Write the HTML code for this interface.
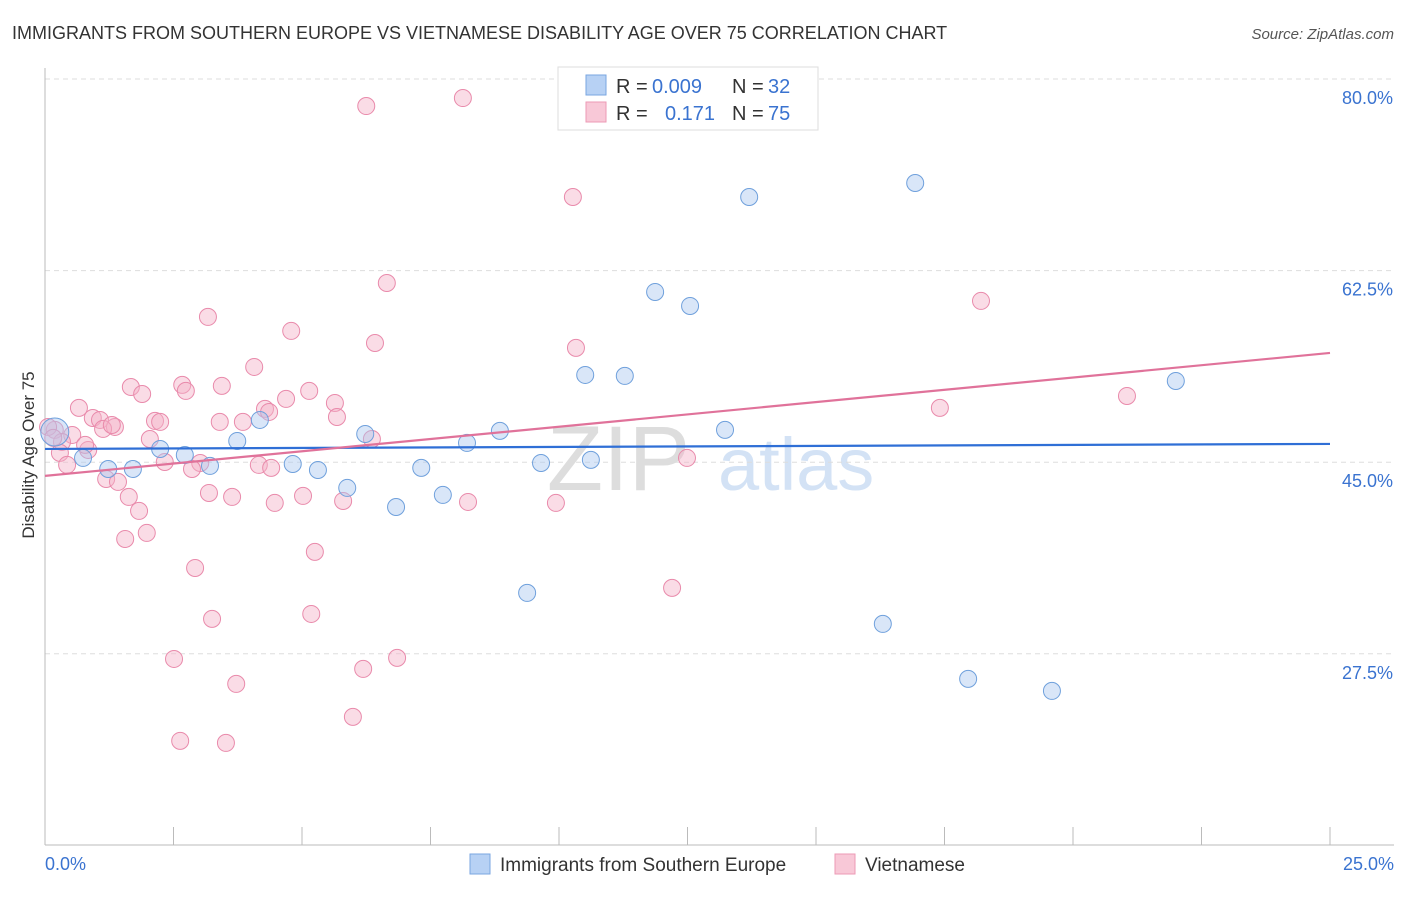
<!DOCTYPE html>
<html><head><meta charset="utf-8"><style>
body{margin:0;background:#fff;font-family:"Liberation Sans",sans-serif;}
svg text{font-family:"Liberation Sans",sans-serif;}
</style></head><body>
<svg id="c" width="1406" height="892" xmlns="http://www.w3.org/2000/svg">
<text x="12" y="39" font-size="18" fill="#333">IMMIGRANTS FROM SOUTHERN EUROPE VS VIETNAMESE DISABILITY AGE OVER 75 CORRELATION CHART</text>
<text x="1394" y="39" font-size="15" fill="#555" font-style="italic" text-anchor="end">Source: ZipAtlas.com</text>
<text x="690" y="490" font-size="92" fill="#ddd" font-family="Liberation Serif" text-anchor="end">ZIP</text>
<text x="718" y="490" font-size="74" fill="#d3e2f5">atlas</text>
<g id="grid"></g><g id="axes"></g><g id="marks"></g><g id="lines"></g>
<g>
<rect x="558" y="67" width="260" height="63" fill="#fff" stroke="#ddd"/>
<rect x="586" y="75" width="20" height="20" fill="#b7d1f4" stroke="#7aa6e0"/>
<rect x="586" y="102" width="20" height="20" fill="#f8c8d7" stroke="#ec9ab5"/>
<text x="616" y="93" font-size="20" fill="#333">R =</text>
<text x="652" y="93" font-size="20" fill="#3a73d0">0.009</text>
<text x="732" y="93" font-size="20" fill="#333">N =</text>
<text x="768" y="93" font-size="20" fill="#3a73d0">32</text>
<text x="616" y="120" font-size="20" fill="#333">R =</text>
<text x="665" y="120" font-size="20" fill="#3a73d0">0.171</text>
<text x="732" y="120" font-size="20" fill="#333">N =</text>
<text x="768" y="120" font-size="20" fill="#3a73d0">75</text>
</g>
<g>
<rect x="470" y="854" width="20" height="20" fill="#b7d1f4" stroke="#7aa6e0"/>
<text x="500" y="871" font-size="19" fill="#333">Immigrants from Southern Europe</text>
<rect x="835" y="854" width="20" height="20" fill="#f8c8d7" stroke="#ec9ab5"/>
<text x="865" y="871" font-size="19" fill="#333">Vietnamese</text>
</g>
<text transform="translate(34,455) rotate(-90)" font-size="17" fill="#333" text-anchor="middle">Disability Age Over 75</text>
</svg>
<script>
const yTicks=[80,62.5,45,27.5];
const yTickLabels=["80.0%","62.5%","45.0%","27.5%"];
const xEndLabels=["0.0%","25.0%"];
const blueX=[0.19,0.74,1.23,1.71,2.24,2.72,3.21,3.74,4.18,4.82,5.31,5.88,6.23,6.83,7.32,7.74,8.21,8.85,9.38,9.65,10.62,10.51,11.28,11.87,12.55,13.23,13.70,16.30,16.93,17.96,19.59,22.00];
const blueY=[47.76,45.39,44.38,44.38,46.21,45.66,44.66,46.94,48.86,44.84,44.29,42.65,47.58,40.91,44.48,42.01,46.76,47.86,33.06,44.93,45.21,52.97,52.88,60.55,59.27,47.95,69.22,30.23,70.50,25.21,24.11,52.42];
const pinkX=[6.25,8.13,10.27,6.65,18.21,3.17,4.79,6.42,10.33,4.07,1.67,2.67,3.44,1.89,2.74,5.14,4.69,5.64,4.28,0.66,17.41,21.05,0.93,2.14,1.07,2.24,3.40,3.85,5.68,4.36,1.36,1.13,0.19,0.53,2.04,6.36,0.33,0.84,0.29,2.33,3.02,4.16,4.40,2.86,0.43,1.19,1.42,1.63,3.19,3.64,5.02,4.47,5.80,8.23,9.94,1.83,1.56,1.98,5.25,2.92,12.20,5.18,3.25,2.51,6.19,6.85,3.72,5.99,2.63,3.52,12.49,0.06,0.16,0.78,1.30];
const pinkY=[77.53,78.26,69.22,61.37,59.73,58.27,56.99,55.89,55.44,53.70,51.87,52.06,51.97,51.23,51.51,51.51,50.78,50.41,49.87,49.96,49.96,51.05,49.04,48.77,48.86,48.68,48.68,48.68,49.13,49.59,48.22,48.04,47.95,47.49,47.12,47.12,46.85,46.12,45.85,45.02,44.93,44.75,44.48,44.38,44.75,43.47,43.20,41.83,42.19,41.83,41.92,41.28,41.46,41.37,41.28,40.55,37.99,38.54,36.81,35.34,33.52,31.14,30.69,27.03,26.12,27.13,24.75,21.74,19.55,19.36,45.39,48.22,47.22,46.58,48.40];
const blueTrend=[46.21,46.67];
const pinkTrend=[43.75,54.98];
const NS="http://www.w3.org/2000/svg";
function xs(v){return 45+v/25*1285;}
function ys(v){return 79+(80-v)/17.5*191.6;}
function mk(t,a,p){const e=document.createElementNS(NS,t);for(const k in a)e.setAttribute(k,a[k]);document.getElementById(p).appendChild(e);return e;}
yTicks.forEach((t,i)=>{
 const l=mk('line',{x1:45,x2:1394,y1:ys(t),y2:ys(t),stroke:'#ddd','stroke-dasharray':'5,4'},'grid');
 
 
 const tx=mk('text',{x:1393,y:ys(t)+25,'font-size':18,fill:'#3a73d0','text-anchor':'end'},'axes');
 tx.textContent=yTickLabels[i];
 
 
});
const ax=mk('line',{x1:45,x2:1394,y1:845,y2:845,stroke:'#bbb'},'axes');


const ay=mk('line',{x1:45,x2:45,y1:68,y2:845,stroke:'#bbb'},'axes');


for(let i=0;i<=10;i++){
 const t=mk('line',{x1:xs(i*2.5),x2:xs(i*2.5),y1:827,y2:845,stroke:'#bbb'},'axes');
 
 
}
const xl0=mk('text',{x:45,y:870,'font-size':18,fill:'#3a73d0'},'axes');xl0.textContent=xEndLabels[0];


const xl1=mk('text',{x:1394,y:870,'font-size':18,fill:'#3a73d0','text-anchor':'end'},'axes');xl1.textContent=xEndLabels[1];


pinkX.forEach((v,i)=>{
 const c=mk('circle',{cx:xs(v),cy:ys(pinkY[i]),r:8.5,fill:'rgba(245,178,200,0.45)',stroke:'#e98aab','stroke-width':1},'marks');
 
 
});
blueX.forEach((v,i)=>{
 const c=mk('circle',{cx:xs(v),cy:ys(blueY[i]),r:i==0?14:8.5,fill:'rgba(170,200,240,0.45)',stroke:'#6fa0dc','stroke-width':1},'marks');
 
 
});
const bl=mk('line',{x1:xs(0),x2:xs(25),y1:ys(blueTrend[0]),y2:ys(blueTrend[1]),stroke:'#2f6fd6','stroke-width':2.2},'lines');


const pl=mk('line',{x1:xs(0),x2:xs(25),y1:ys(pinkTrend[0]),y2:ys(pinkTrend[1]),stroke:'#e0729a','stroke-width':2.2},'lines');


</script>
</body></html>
